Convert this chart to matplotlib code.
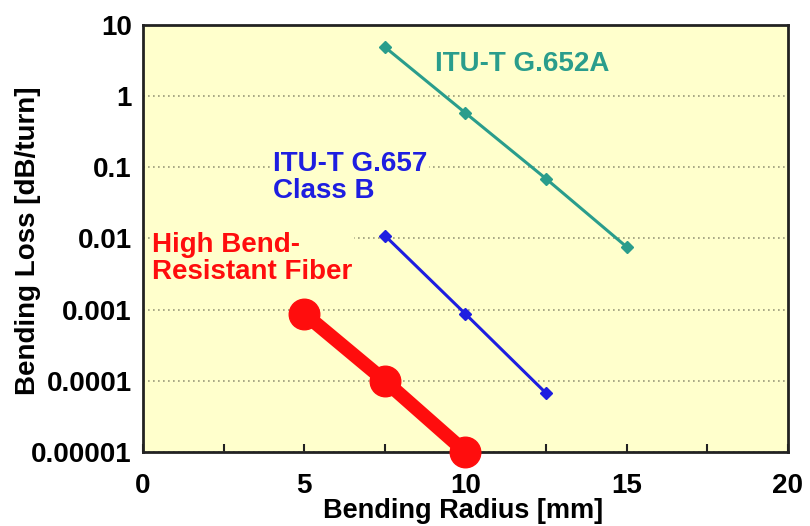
import matplotlib
matplotlib.use("Agg")
import matplotlib.pyplot as plt
from matplotlib.ticker import MultipleLocator, FixedLocator, NullFormatter

# bending radius [mm] and bending loss [dB/turn]
g652_radius = [7.5, 10, 12.5, 15]
g652_loss = [4.9, 0.58, 0.069, 0.0076]

g657_radius = [7.5, 10, 12.5]
g657_loss = [0.011, 0.00087, 0.000067]

hbr_radius = [5, 7.5, 10]
hbr_loss = [0.00088, 0.0001, 0.00001]

y_ticks = [10, 1, 0.1, 0.01, 0.001, 0.0001, 0.00001]
y_ticklabels = ["10", "1", "0.1", "0.01", "0.001", "0.0001", "0.00001"]
x_ticks = [0, 5, 10, 15, 20]

BG = "#FFFFCC"
TEAL = "#2A9D8C"
BLUE = "#1E1EE0"
RED = "#FF0D0D"

plt.rcParams["font.family"] = ["Liberation Sans", "DejaVu Sans"]
plt.rcParams["font.weight"] = "bold"

fig = plt.figure(figsize=(8.1, 5.26), dpi=100)
ax = fig.add_axes([0.1765, 0.1407, 0.9728 - 0.1765, 0.9525 - 0.1407])
ax.set_facecolor(BG)

ax.plot(g652_radius, g652_loss, color=TEAL, lw=2.2, marker="D", ms=6.5, zorder=3)
ax.plot(g657_radius, g657_loss, color=BLUE, lw=2.2, marker="D", ms=6.5, zorder=3)
ax.plot(hbr_radius, hbr_loss, color=RED, lw=10, marker="o", ms=22,
        solid_capstyle="round", zorder=4, clip_on=False)

ax.set_yscale("log")
ax.set_ylim(1e-5, 10)
ax.set_xlim(0, 20)

ax.yaxis.set_major_locator(FixedLocator(y_ticks))
ax.set_yticklabels(y_ticklabels)
ax.yaxis.set_minor_formatter(NullFormatter())
ax.tick_params(axis="y", which="both", length=0, pad=8, labelsize=20)

ax.xaxis.set_major_locator(FixedLocator(x_ticks))
ax.xaxis.set_minor_locator(MultipleLocator(2.5))
ax.tick_params(axis="x", which="both", direction="in", length=6, width=1.5,
               pad=15, labelsize=20, color="#222222")

ax.grid(True, axis="y", which="major", linestyle=(0, (1, 2)), color="#9A9A7A",
        linewidth=1.2)
ax.set_axisbelow(True)

for s in ax.spines.values():
    s.set_linewidth(2)
    s.set_color("#222222")

ax.set_xlabel("Bending Radius [mm]", fontsize=19.5, fontweight="bold")
ax.xaxis.label.set_va("top")
ax.xaxis.set_label_coords(0.496, -0.107)
ax.set_ylabel("Bending Loss [dB/turn]", fontsize=20, fontweight="bold")
ax.yaxis.label.set_va("center")
ax.yaxis.set_label_coords(-0.178, 0.494)

box = dict(facecolor=BG, edgecolor="none", pad=1)
ax.text(9.05, 2.8, "ITU-T G.652A", color=TEAL, fontsize=20, fontweight="bold",
        va="center", ha="left", bbox=box, zorder=5)
ax.text(4.03, 0.17, "ITU-T G.657\nClass B", color=BLUE, fontsize=20,
        fontweight="bold", va="top", ha="left", bbox=box, linespacing=1.05, zorder=5)
ax.text(0.28, 0.0125, "High Bend-\nResistant Fiber", color=RED, fontsize=20,
        fontweight="bold", va="top", ha="left", bbox=box, linespacing=1.05, zorder=5)

fig.savefig("out.png", dpi=100, facecolor="white")
